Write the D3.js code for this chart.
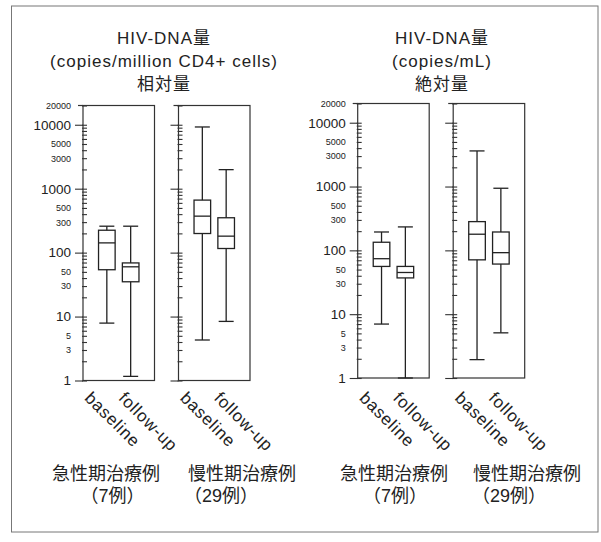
<!DOCTYPE html>
<html lang="ja">
<head>
<meta charset="UTF-8">
<title>HIV-DNA量</title>
<style>
  body { margin: 0; background: #fff; }
  text { font-family: 'Liberation Sans', 'Noto Sans CJK JP', sans-serif; fill: #222; }
  .axis path { display: none; }
  .axis line { stroke: #333; stroke-width: 1.1px; }
</style>
</head>
<body>
<div id="chart"></div>
<script src="https://d3js.org/d3.v7.min.js"></script>
<script>
  // 数値データ
  const categories = ['baseline', 'follow-up']
  const groupNames = ['急性期治療例', '慢性期治療例']
  const groupCounts = ['（7例）', '（29例）']
  const titleLines = [
    ['HIV-DNA量', '(copies/million CD4+ cells)', '相対量'],
    ['HIV-DNA量', '(copies/mL)', '絶対量']
  ]
  const majorTicks = [1, 10, 100, 1000, 10000]
  const smallTickLabels = [3, 5, 30, 50, 300, 500, 3000, 5000, 20000]
  const yDomain = [1, 20000]
  // box: [min, q1, median, q3, max]
  const relAcute = [[7.9, 54, 142, 224, 259], [1.16, 35, 60, 69, 259]]
  const relChronic = [[4.3, 199, 372, 663, 9230], [8.4, 116, 181, 351, 1985]]
  const absAcute = [[7.0, 56, 74, 134, 194], [1, 37, 45, 56, 233]]
  const absChronic = [[1.94, 71, 179, 282, 3614], [5.1, 61, 92, 194, 940]]

  const charts = [
    { boxes: [relAcute, relChronic], x0: 83, top: 105.5, bottom: 380.5, titleX: 164,
      groupX: [106, 242], countX: [112.5, 221] },
    { boxes: [absAcute, absChronic], x0: 357.7, top: 103.5, bottom: 378, titleX: 442,
      groupX: [394, 527], countX: [395, 509] }
  ]

  const width = 601, height = 542
  const panelW = 71.5, panelGap = 24
  const boxW = 16.6, capW = 15
  const labelOffset = [-23, -13], labelY = 399
  const ink = '#222'

  const svg = d3.select('#chart').append('svg')
    .attr('width', width)
    .attr('height', height)

  // 外枠
  svg.append('rect')
    .attr('x', 11.5).attr('y', 6)
    .attr('width', 586.5).attr('height', 526)
    .style('fill', 'none').style('stroke', '#777').style('stroke-width', '1px')

  charts.forEach(function (c, ci) {
    const g = svg.append('g')
    const y = d3.scaleLog().domain(yDomain).range([c.bottom, c.top])
    const p = panelGap / (panelW + panelGap)
    const xPanel = d3.scaleBand().domain(groupNames)
      .range([c.x0, c.x0 + 2 * panelW + panelGap]).paddingInner(p).paddingOuter(0)
    const xCat = d3.scalePoint().domain(categories).range([0, xPanel.bandwidth()]).padding(1)

    // タイトル
    titleLines[ci].forEach(function (t, i) {
      g.append('text')
        .attr('x', c.titleX)
        .attr('y', 43.5 + i * 23)
        .attr('text-anchor', 'middle')
        .style('font-size', '17px')
        .style('letter-spacing', '1px')
        .text(t)
    })

    groupNames.forEach(function (gn, gi) {
      const px = xPanel(gn)
      const pg = g.append('g')

      // パネル枠
      pg.append('rect')
        .attr('x', px).attr('y', c.top)
        .attr('width', xPanel.bandwidth()).attr('height', c.bottom - c.top)
        .style('fill', 'none').style('stroke', '#333').style('stroke-width', '1.2px')

      // 上端の短い線
      pg.append('line')
        .attr('x1', px - 5).attr('x2', px)
        .attr('y1', y(yDomain[1])).attr('y2', y(yDomain[1]))
        .style('stroke', '#333').style('stroke-width', '1.2px')

      // 主目盛
      const major = pg.append('g').attr('class', 'axis')
        .attr('transform', 'translate(' + px + ',0)')
        .call(d3.axisLeft(y).tickValues(majorTicks).tickSize(8).tickPadding(4)
          .tickFormat(gi === 0 ? d3.format('d') : ''))
      major.selectAll('text').style('font-size', '13.5px').style('fill', ink)

      // 副目盛（内側）
      pg.append('g').attr('class', 'axis')
        .attr('transform', 'translate(' + (px - 1) + ',0)')
        .call(d3.axisRight(y).tickValues(y.ticks()).tickSize(5).tickFormat(''))

      // 小さいラベル
      if (gi === 0) {
        const small = pg.append('g').attr('class', 'axis')
          .attr('transform', 'translate(' + px + ',0)')
          .call(d3.axisLeft(y).tickValues(smallTickLabels).tickSize(0).tickPadding(12)
            .tickFormat(d3.format('d')))
        small.selectAll('text').style('font-size', '9px').style('fill', ink)
        small.selectAll('line').remove()
      }

      // 箱ひげ
      c.boxes[gi].forEach(function (b, bi) {
        const cx = px + xCat(categories[bi])
        const bg = pg.append('g')
          .style('stroke', ink).style('stroke-width', '1.3px')
        bg.append('line')
          .attr('x1', cx).attr('x2', cx)
          .attr('y1', y(b[0])).attr('y2', y(b[4]))
        ;[b[0], b[4]].forEach(function (v) {
          bg.append('line')
            .attr('x1', cx - capW / 2).attr('x2', cx + capW / 2)
            .attr('y1', y(v)).attr('y2', y(v))
        })
        bg.append('rect')
          .attr('x', cx - boxW / 2).attr('width', boxW)
          .attr('y', y(b[3])).attr('height', y(b[1]) - y(b[3]))
          .style('fill', '#fff')
        bg.append('line')
          .attr('x1', cx - boxW / 2).attr('x2', cx + boxW / 2)
          .attr('y1', y(b[2])).attr('y2', y(b[2]))

        // 横軸ラベル（斜め）
        pg.append('text')
          .attr('transform', 'translate(' + (cx + labelOffset[bi]) + ',' + labelY + ') rotate(45)')
          .attr('text-anchor', 'start')
          .style('font-size', '17px')
          .style('letter-spacing', '0.8px')
          .text(categories[bi])
      })

      // 群ラベル
      g.append('text')
        .attr('x', c.groupX[gi]).attr('y', 480)
        .attr('text-anchor', 'middle')
        .style('font-size', '18px')
        .text(gn)
      g.append('text')
        .attr('x', c.countX[gi]).attr('y', 502)
        .attr('text-anchor', 'middle')
        .style('font-size', '18px')
        .text(groupCounts[gi])
    })
  })
</script>
</body>
</html>
